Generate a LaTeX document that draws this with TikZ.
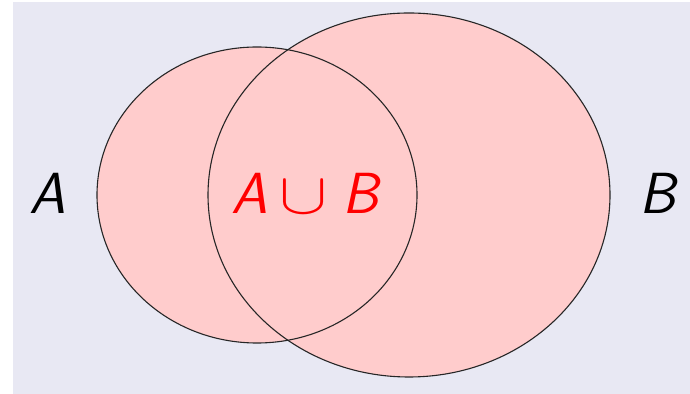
\documentclass[tikz,border=0pt]{standalone}
\usepackage{amsmath}
\usepackage{graphicx}
\usepackage{tikz}

\definecolor{slidebg}{RGB}{232,232,243}
\definecolor{setfill}{RGB}{255,204,204}

\begin{document}
\begin{tikzpicture}[
  x=0.5pt, y=-0.5pt,
  lbl/.style={
    font=\fontsize{29}{34}\selectfont\sffamily\itshape,
    inner sep=0pt
  },
  setfillst/.style={fill=setfill},
  setline/.style={draw=black!85, line width=0.55pt}
]

\useasboundingbox (0,0) rectangle (690,394);
\fill[slidebg] (13,2) rectangle (690,394);

% ellipse centres and radii
\def\axc{257}\def\ayc{195}\def\arx{160}\def\ary{148}
\def\bxc{409}\def\byc{195}\def\brx{201}\def\bry{182}

% fills first, outlines on top
\path[setfillst] (\axc,\ayc) ellipse [x radius=\arx, y radius=\ary];
\path[setfillst] (\bxc,\byc) ellipse [x radius=\brx, y radius=\bry];
\path[setline] (\axc,\ayc) ellipse [x radius=\arx, y radius=\ary];
\path[setline] (\bxc,\byc) ellipse [x radius=\brx, y radius=\bry];

% labels
\node[lbl] (labA) at (48,193) {A};
\node[lbl] (labB) at (658,193) {B};
\node[lbl, text=red] (labAB) at (305,193)
  {A\hspace{6pt}\scalebox{1.45}[1.17]{$\cup$}\hspace{7pt}B};

\end{tikzpicture}
\end{document}
